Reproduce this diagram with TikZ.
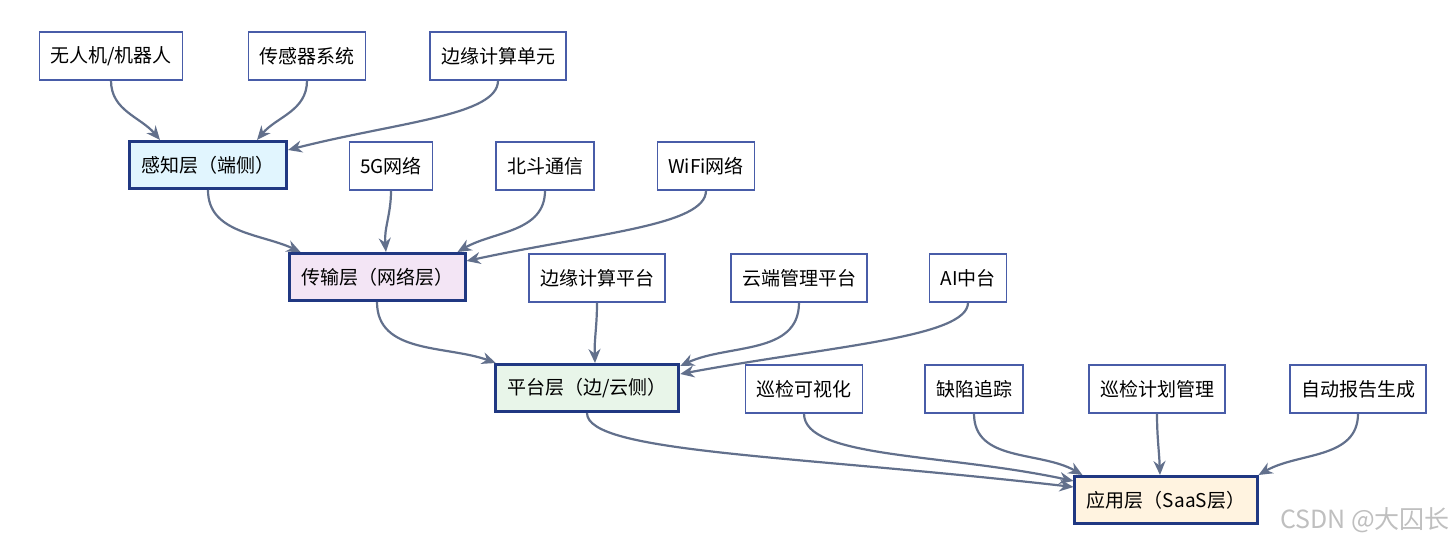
\documentclass[tikz,border=0pt]{standalone}
\usepackage{fontspec}
\setmainfont{Noto Sans CJK SC}
\usetikzlibrary{arrows.meta}

\definecolor{edgegray}{RGB}{98,112,140}
\definecolor{leafline}{RGB}{72,92,168}
\definecolor{layerline}{RGB}{32,56,130}
\definecolor{senseblue}{RGB}{225,245,254}
\definecolor{netpurple}{RGB}{243,229,245}
\definecolor{platgreen}{RGB}{232,245,233}
\definecolor{appcream}{RGB}{255,243,224}

\begin{document}
\begin{tikzpicture}[
  x=1pt, y=1pt,
  leaf/.style={draw=leafline, line width=1.2pt, fill=white, rectangle, align=center,
    font=\fontsize{19}{22}\selectfont, inner xsep=11pt, minimum height=48pt},
  layer/.style={draw=layerline, line width=3pt, rectangle, align=center,
    font=\fontsize{19}{22}\selectfont, inner xsep=12pt, minimum height=47pt},
  flow/.style={->, draw=edgegray, line width=2.2pt},
  >={Stealth[length=14pt,width=12pt]}
]
\useasboundingbox (0,0) rectangle (1456,-547);

% end side
\node[leaf] (drone) at (111,-56) {无人机/机器人};
\node[leaf] (sensor) at (307,-56) {传感器系统};
\node[leaf] (edgeunit) at (498,-56) {边缘计算单元};
\node[layer, fill=senseblue] (sense) at (208,-165) {感知层（端侧）};

% network
\node[leaf] (fiveg) at (391,-166) {5G网络};
\node[leaf] (beidou) at (545,-166) {北斗通信};
\node[leaf] (wifi) at (706,-166) {WiFi网络};
\node[layer, fill=netpurple] (trans) at (377,-277) {传输层（网络层）};

% platform
\node[leaf] (edgeplat) at (597,-278) {边缘计算平台};
\node[leaf] (cloud) at (799,-278) {云端管理平台};
\node[leaf] (ai) at (968,-278) {AI中台};
\node[layer, fill=platgreen] (plat) at (587,-388) {平台层（边/云侧）};

% applications
\node[leaf] (visual) at (804,-389) {巡检可视化};
\node[leaf] (defect) at (974,-389) {缺陷追踪};
\node[leaf] (plan) at (1157,-389) {巡检计划管理};
\node[leaf] (report) at (1358,-389) {自动报告生成};
\node[layer, fill=appcream] (app) at (1166,-500) {应用层（SaaS层）};

\node[text=black!25, font=\fontsize{25}{28}\selectfont, anchor=east, inner sep=0pt] (mark) at (1450,-520) {CSDN @大囚长};

\draw[flow] (drone.south) to[out=-90, in=130] ([xshift=32pt]sense.north west);
\draw[flow] (sensor.south) to[out=-90, in=50] ([xshift=-31pt]sense.north east);
\draw[flow] (edgeunit.south) .. controls +(0,-35) and +(110,28) .. ([yshift=-10pt]sense.north east);

\draw[flow] (sense.south) to[out=-90, in=155] ([xshift=13pt]trans.north west);
\draw[flow] (fiveg.south) to[out=-90, in=95] ([xshift=9pt]trans.north);
\draw[flow] (beidou.south) to[out=-90, in=30] ([xshift=-9pt]trans.north east);
\draw[flow] (wifi.south) .. controls +(0,-35) and +(130,28) .. ([yshift=-9pt]trans.north east);

\draw[flow] (trans.south) to[out=-90, in=160] ([xshift=2pt]plat.north west);
\draw[flow] (edgeplat.south) to[out=-90, in=92] ([xshift=8pt]plat.north);
\draw[flow] (cloud.south) to[out=-90, in=25] ([yshift=-3pt]plat.north east);
\draw[flow] (ai.south) .. controls +(0,-35) and +(150,28) .. ([yshift=-11pt]plat.north east);

\draw[flow] (plat.south) .. controls +(0,-40) and +(-280,32) .. ([yshift=-12pt]app.north west);
\draw[flow] (visual.south) .. controls +(0,-45) and +(-130,28) .. ([yshift=-6pt]app.north west);
\draw[flow] (defect.south) to[out=-90, in=150] ([xshift=9pt]app.north west);
\draw[flow] (plan.south) to[out=-90, in=92] ([xshift=-6pt]app.north);
\draw[flow] (report.south) to[out=-90, in=30] (app.north east);
\end{tikzpicture}
\end{document}
